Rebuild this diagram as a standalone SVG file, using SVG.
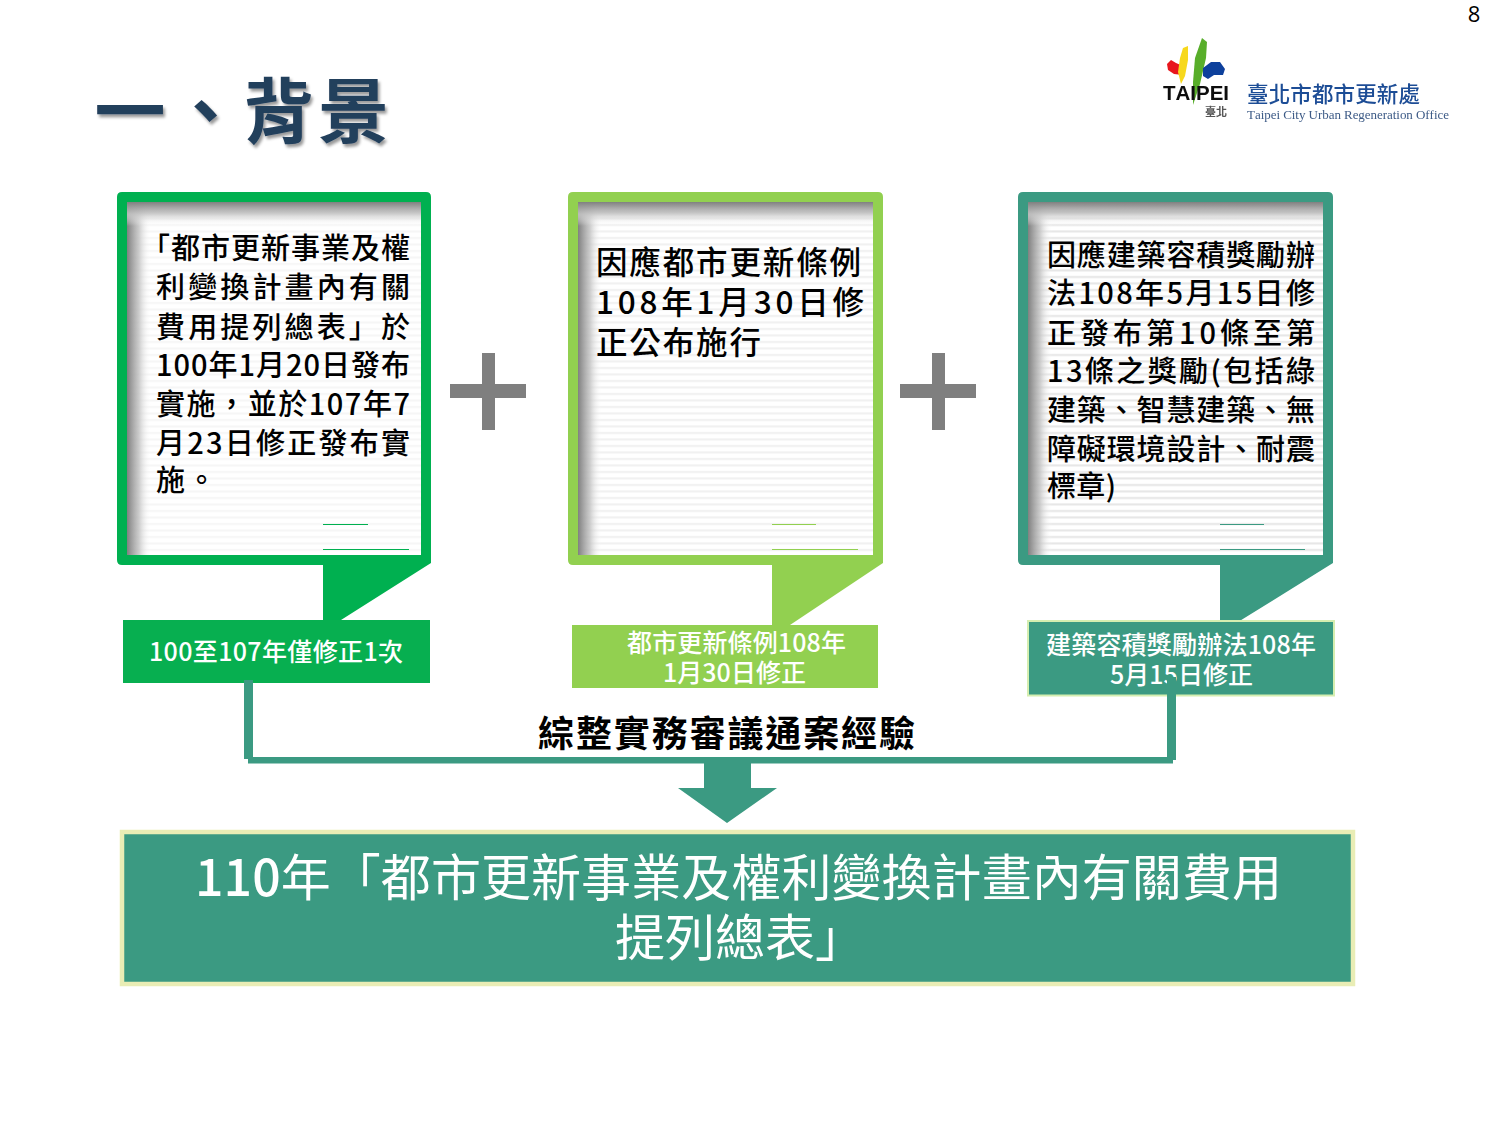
<svg xmlns="http://www.w3.org/2000/svg" width="1500" height="1125" viewBox="0 0 1500 1125">
<style>
text{font-family:"Noto Sans CJK TC","Noto Sans CJK SC",sans-serif;text-spacing-trim:space-all;font-kerning:none}
.body{font-size:29px;font-weight:500;fill:#000}
.body2{font-size:31.500px;font-weight:500;fill:#000}
.lab{font-size:25px;fill:#fff;font-weight:500}
.big{font-size:50px;fill:#fff;font-weight:400}
.num{font-weight:500}
.plus{fill:#7f7f7f}
.teal{fill:#3b9a82}
</style>
<defs>
<linearGradient id="gl" x1="0" x2="1" y1="0" y2="0"><stop offset="0" stop-color="#808080"/><stop offset=".5" stop-color="#c4c4c4" stop-opacity=".85"/><stop offset="1" stop-color="#fff" stop-opacity="0"/></linearGradient>
<linearGradient id="gt" x1="0" x2="0" y1="0" y2="1"><stop offset="0" stop-color="#808080"/><stop offset=".5" stop-color="#c4c4c4" stop-opacity=".85"/><stop offset="1" stop-color="#fff" stop-opacity="0"/></linearGradient>
<pattern id="s1" width="25" height="6.500" patternUnits="userSpaceOnUse"><rect width="25" height="6.500" fill="#fff"/><rect width="25" height="2" y="3" fill="#f6f6f6"/></pattern>
<pattern id="s2" width="25" height="6.500" patternUnits="userSpaceOnUse"><rect width="25" height="6.500" fill="#fff"/><rect width="25" height="2" y="3" fill="#f0f0f0"/></pattern>
<pattern id="s3" width="25" height="6.500" patternUnits="userSpaceOnUse"><rect width="25" height="6.500" fill="#fff"/><rect width="25" height="2" y="3" fill="#e6e6e6"/></pattern>
<filter id="sh" x="-5%" y="-5%" width="110%" height="115%"><feDropShadow dx="2" dy="3" stdDeviation="1.800" flood-color="#000" flood-opacity=".4"/></filter>
<filter id="soft" x="-5%" y="-5%" width="110%" height="110%"><feGaussianBlur stdDeviation=".45"/></filter>
</defs>

<text x="1474" y="22" font-size="22" text-anchor="middle" style="font-family:'Open Sans',sans-serif" fill="#000">8</text>

<g id="title" filter="url(#sh)" fill="#243f5c" font-size="71" font-weight="700">
<text x="94.500 170 243 318" y="137">一、背景</text>
</g>

<g id="logo" filter="url(#soft)">
<path d="M1167 64 1171 60 1176 63 1183 66 1183 75 1174 74 1168 70Z" fill="#e8141c"/>
<path d="M1183 48 1188 46 1188 60 1185 76 1181 84 1178 72 1180 58Z" fill="#f7d81c"/>
<path d="M1202 38 1207 42 1206 58 1200 84 1193 105 1193 82 1195 58Z" fill="#58ae2c"/>
<path d="M1203 68 1211 62 1220 62 1225 69 1223 75 1214 75 1208 79 1203 76Z" fill="#103f9c"/>
<text x="1163" y="100" font-size="20.500" font-weight="700" fill="#111" textLength="66" style="font-family:'Liberation Sans',sans-serif">TAIPEI</text>
<text x="1205" y="116" font-size="11" font-weight="700" fill="#555">臺北</text>
<text x="1247" y="102" font-size="21.500" font-weight="500" fill="#1f4e96" textLength="173">臺北市都市更新處</text>
<text x="1247" y="119" font-size="13" fill="#3c5a86" textLength="202" style="font-family:'Liberation Serif',serif">Taipei City Urban Regeneration Office</text>
</g>

<g id="node-a">
<path d="M122 192H426Q431 192 431 197V563L341 620H323V565H122Q117 565 117 560V197Q117 192 122 192Z" fill="#00b050"/>
<rect x="127" y="202" width="294" height="353" fill="url(#s1)"/>
<rect x="127" y="202" width="24" height="353" fill="url(#gl)"/>
<rect x="127" y="202" width="294" height="24" fill="url(#gt)"/>
<rect x="323" y="524" width="45" height="1" fill="#00b050"/>
<rect x="323" y="549" width="86" height="1" fill="#00b050"/>
<g class="body">
<text x="141" y="259" textLength="269">「都市更新事業及權</text>
<text x="156" y="298" textLength="254">利變換計畫內有關</text>
<text x="156" y="338" textLength="254">費用提列總表」於</text>
<text x="156" y="376" textLength="254">100年1月20日發布</text>
<text x="156" y="415" textLength="254">實施，並於107年7</text>
<text x="156" y="454" textLength="254">月23日修正發布實</text>
<text x="156" y="491" textLength="60">施。</text>
</g>
<rect x="123" y="620" width="307" height="63" fill="#07af50"/>
<text class="lab" x="149" y="661" textLength="254">100至107年僅修正1次</text>
</g>

<g id="node-b">
<path d="M573 192H878Q883 192 883 197V563L790 625H772V565H573Q568 565 568 560V197Q568 192 573 192Z" fill="#92d050"/>
<rect x="578" y="202" width="295" height="353" fill="url(#s2)"/>
<rect x="578" y="202" width="24" height="353" fill="url(#gl)"/>
<rect x="578" y="202" width="295" height="24" fill="url(#gt)"/>
<rect x="772" y="524" width="44" height="1" fill="#92d050"/>
<rect x="772" y="549" width="86" height="1" fill="#92d050"/>
<g class="body2">
<text x="596" y="274" textLength="265">因應都市更新條例</text>
<text x="596" y="314" textLength="268">108年1月30日修</text>
<text x="596" y="354" textLength="165">正公布施行</text>
</g>
<rect x="572" y="625" width="306" height="63" fill="#92d050"/>
<text class="lab" x="627" y="652" textLength="219">都市更新條例108年</text>
<text class="lab" x="663" y="682" textLength="143">1月30日修正</text>
</g>

<g id="node-c">
<path d="M1023 192H1328Q1333 192 1333 197V563L1238 622H1220V565H1023Q1018 565 1018 560V197Q1018 192 1023 192Z" class="teal"/>
<rect x="1028" y="202" width="295" height="353" fill="url(#s3)"/>
<rect x="1028" y="202" width="24" height="353" fill="url(#gl)"/>
<rect x="1028" y="202" width="295" height="24" fill="url(#gt)"/>
<rect x="1220" y="524" width="44" height="1" fill="#3b9a82"/>
<rect x="1220" y="549" width="85" height="1" fill="#3b9a82"/>
<g class="body">
<text x="1047" y="266" textLength="268">因應建築容積獎勵辦</text>
<text x="1047" y="304" textLength="268">法108年5月15日修</text>
<text x="1047" y="344" textLength="268">正發布第10條至第</text>
<text x="1047" y="382" textLength="268">13條之獎勵(包括綠</text>
<text x="1047" y="421" textLength="268">建築、智慧建築、無</text>
<text x="1047" y="460" textLength="268">障礙環境設計、耐震</text>
<text x="1047" y="497" textLength="69">標章)</text>
</g>
<rect x="1028" y="621" width="306" height="74.500" class="teal" stroke="#d5eeb0" stroke-width="2"/>
<text class="lab" x="1046" y="654" textLength="270">建築容積獎勵辦法108年</text>
<text class="lab" x="1110" y="684" textLength="143">5月15日修正</text>
</g>

<g id="plus-1" class="plus"><rect x="450" y="384" width="76" height="14"/><rect x="482" y="353" width="13" height="77"/></g>
<g id="plus-2" class="plus"><rect x="900" y="384" width="76" height="14"/><rect x="932" y="353" width="13" height="77"/></g>

<g id="connectors" class="teal">
<rect x="244" y="680" width="9" height="79"/>
<rect x="248" y="757" width="925" height="6.500"/>
<rect x="1167" y="677" width="9" height="83"/>
<path d="M704 763H751V788H777L727 823 678 788H704Z"/>
</g>

<text id="merge-label" x="538" y="747" font-size="36" font-weight="700" fill="#000" textLength="377">綜整實務審議通案經驗</text>

<g id="node-result">
<rect x="122" y="832" width="1231" height="152" class="teal" stroke="#e9edb5" stroke-width="4.500"/>
<text class="big" x="195" y="896" textLength="1087"><tspan class="num">110</tspan>年「都市更新事業及權利變換計畫內有關費用</text>
<text class="big" x="615" y="956" textLength="250">提列總表」</text>
</g>
</svg>
